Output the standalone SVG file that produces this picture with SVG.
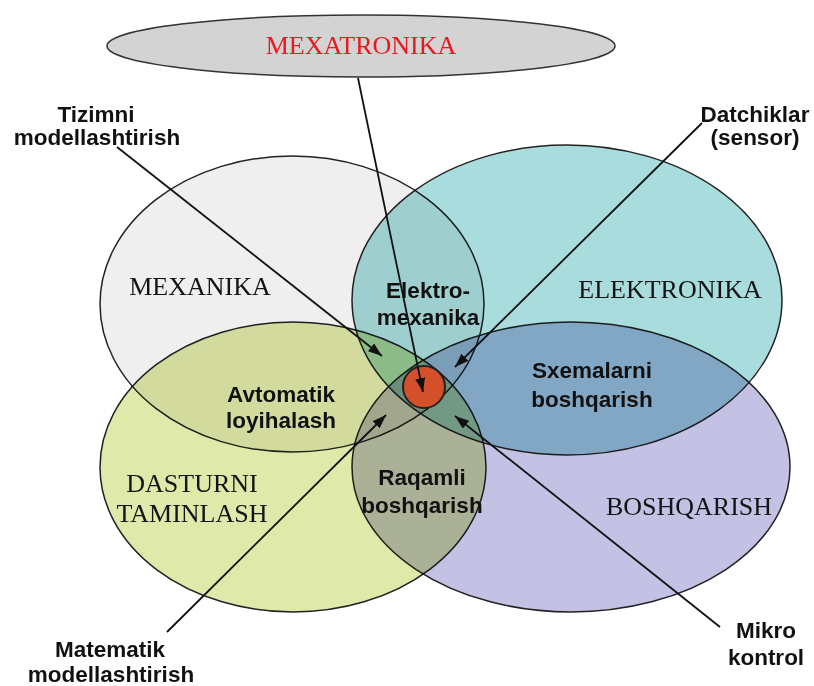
<svg xmlns="http://www.w3.org/2000/svg" width="814" height="686" viewBox="0 0 814 686">
<defs>
<style>
.set{stroke:#222;stroke-width:1.5;mix-blend-mode:multiply}
.big{font-family:"Liberation Serif","Times New Roman",serif;font-size:26px;fill:#141414;text-anchor:middle}
.lbl{font-family:"Liberation Sans",Arial,sans-serif;font-size:22.5px;font-weight:bold;fill:#111;text-anchor:middle}
.conn line{stroke:#111;stroke-width:1.8;marker-end:url(#arr)}
</style>
<marker id="arr" viewBox="0 0 14 10" refX="14" refY="5" markerWidth="14" markerHeight="10" markerUnits="userSpaceOnUse" orient="auto">
<path d="M0,0 L14,5 L0,10 Z" fill="#111"/>
</marker>
</defs>
<rect width="814" height="686" fill="#fff"/>
<g id="sets">
<g id="mexanika"><ellipse class="set" cx="292" cy="304" rx="192" ry="148" fill="#f0efef"/></g>
<g id="elektronika"><ellipse class="set" cx="567" cy="300" rx="215" ry="155" fill="#a9dcdc"/></g>
<g id="dasturni"><ellipse class="set" cx="293" cy="467" rx="193" ry="145" fill="#dfe9a9"/></g>
<g id="boshqarish"><ellipse class="set" cx="571" cy="467" rx="219" ry="145" fill="#c4c2e4"/></g>
</g>
<g id="mexatronika">
<ellipse cx="361" cy="46" rx="254" ry="31" fill="#d3d3d3" stroke="#333" stroke-width="1.5"/>
<text x="361" y="54" class="big" style="fill:#e8191f">MEXATRONIKA</text>
</g>
<g id="core"><circle cx="424" cy="387" r="21" fill="#d4502a" stroke="#222" stroke-width="2"/></g>
<g id="set-labels">
<text x="200" y="295" class="big">MEXANIKA</text>
<text x="670" y="298" class="big">ELEKTRONIKA</text>
<text x="192" y="492" class="big">DASTURNI</text>
<text x="192" y="522" class="big">TAMINLASH</text>
<text x="689" y="515" class="big">BOSHQARISH</text>
</g>
<g id="overlap-labels">
<g id="elektromexanika"><text x="428" y="298" class="lbl">Elektro-</text><text x="428" y="325" class="lbl">mexanika</text></g>
<g id="avtomatik"><text x="281" y="402" class="lbl">Avtomatik</text><text x="281" y="428" class="lbl">loyihalash</text></g>
<g id="sxemalarni"><text x="592" y="378" class="lbl">Sxemalarni</text><text x="592" y="407" class="lbl">boshqarish</text></g>
<g id="raqamli"><text x="422" y="485" class="lbl">Raqamli</text><text x="422" y="513" class="lbl">boshqarish</text></g>
</g>
<g id="outer-labels">
<g id="tizimni"><text x="96" y="122" class="lbl">Tizimni</text><text x="97" y="145" class="lbl">modellashtirish</text></g>
<g id="datchiklar"><text x="755" y="122" class="lbl">Datchiklar</text><text x="755" y="145" class="lbl">(sensor)</text></g>
<g id="matematik"><text x="110" y="657" class="lbl">Matematik</text><text x="111" y="682" class="lbl">modellashtirish</text></g>
<g id="mikro"><text x="766" y="638" class="lbl">Mikro</text><text x="766" y="665" class="lbl">kontrol</text></g>
</g>
<g id="connectors" class="conn">
<line x1="358" y1="78" x2="423" y2="392"/>
<line x1="117" y1="147" x2="382" y2="356"/>
<line x1="702" y1="123" x2="455" y2="367"/>
<line x1="167" y1="632" x2="386" y2="415"/>
<line x1="720" y1="627" x2="455" y2="416"/>
</g>
</svg>
